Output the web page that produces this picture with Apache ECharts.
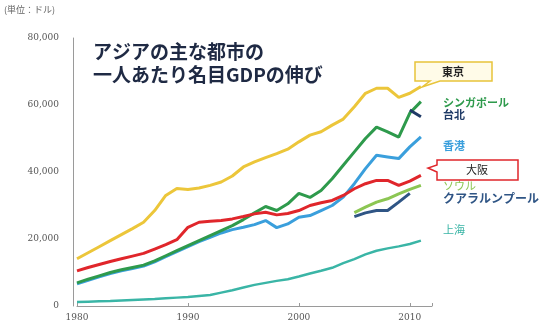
<!DOCTYPE html>
<html><head><meta charset="utf-8">
<script src="https://cdn.jsdelivr.net/npm/echarts@6/dist/echarts.min.js"></script>
<style>html,body{margin:0;padding:0;background:#fff}#c{width:549px;height:329px}</style>
</head><body><div id="c"></div>
<script>
const years = [1980,1981,1982,1983,1984,1985,1986,1987,1988,1989,1990,1991,1992,1993,1994,1995,1996,1997,1998,1999,2000,2001,2002,2003,2004,2005,2006,2007,2008,2009,2010,2011];
const tokyo = [14100,15900,17700,19500,21300,23100,25000,28500,33000,35100,34800,35200,36000,37000,38800,41500,43000,44300,45500,46800,49000,51000,52000,54000,55800,59500,63500,65000,65000,62300,63500,65500];
const osaka = [10500,11500,12400,13300,14100,14900,15700,17000,18300,19800,23500,25000,25300,25500,26000,26700,27500,28000,27200,27600,28500,30000,30800,31500,33000,35000,36500,37500,37500,36000,37300,39000];
const singapore = [6900,8000,9000,10000,10800,11500,12200,13500,15000,16500,18000,19500,21000,22500,24000,25800,27800,29700,28500,30500,33600,32400,34500,38000,42000,46000,50000,53400,52000,50400,57600,61000];
const hongkong = [6600,7700,8700,9700,10500,11200,11900,13200,14700,16200,17700,19200,20500,21800,22800,23500,24300,25500,23400,24500,26500,27000,28500,30000,32500,36500,41000,45000,44500,44000,47500,50500];
const shanghai = [1200,1300,1400,1500,1650,1800,1950,2100,2300,2500,2700,3000,3300,4000,4700,5500,6300,6900,7500,8000,8800,9700,10500,11400,12800,14000,15400,16500,17200,17800,18500,19500];
const seoulYears = [2005,2006,2007,2008,2009,2010,2011];
const seoul = [27900,29500,31000,32000,33500,34800,36000];
const klYears = [2005,2006,2007,2008,2009,2010];
const kualaLumpur = [26700,27800,28500,28500,31000,33600];
const taipeiYears = [2010,2011];
const taipei = [58500,56500];
const yTicks = ['0','20,000','40,000','60,000','80,000'];
const xTicks = ['1980','1990','2000','2010'];

const pair = (xs, vs) => xs.map((x, i) => [x, vs[i]]);
const mk = (name, xs, vs, color, w) => ({
  name, type: 'line', data: pair(xs, vs), symbol: 'none', smooth: false,
  lineStyle: { color, width: w || 3 }, itemStyle: { color }, z: 3
});

const chart = echarts.init(document.getElementById('c'), null, { renderer: 'canvas' });
chart.setOption({
  animation: false,
  backgroundColor: '#ffffff',
  grid: { left: 77, right: 117, top: 38, bottom: 23, containLabel: false },
  xAxis: {
    type: 'value', min: 1980, max: 2012, interval: 10,
    axisLine: { show: true, lineStyle: { color: '#9a9a9a', width: 1 } },
    axisTick: { show: true, inside: true, length: 3, lineStyle: { color: '#9a9a9a' } },
    splitLine: { show: false },
    axisLabel: { color: '#555', fontSize: 9, fontFamily: 'DejaVu Serif', margin: 7,
      formatter: v => xTicks.includes(String(v)) ? String(v) : '' }
  },
  yAxis: {
    type: 'value', min: 0, max: 80000, interval: 20000, offset: 4,
    axisLine: { show: true, lineStyle: { color: '#9a9a9a', width: 1 } },
    axisTick: { show: false },
    splitLine: { show: false },
    axisLabel: { color: '#555', fontSize: 9, fontFamily: 'DejaVu Serif', margin: 14,
      formatter: v => yTicks[Math.round(v / 20000)] }
  },
  series: [
    mk('上海', years, shanghai, '#3ab5a6', 2.5),
    mk('香港', years, hongkong, '#3a9fdc'),
    mk('シンガポール', years, singapore, '#2e9a4c'),
    mk('大阪', years, osaka, '#e0262b'),
    mk('東京', years, tokyo, '#ecc63a'),
    mk('ソウル', seoulYears, seoul, '#8cc653'),
    mk('クアラルンプール', klYears, kualaLumpur, '#2f5585'),
    mk('台北', taipeiYears, taipei, '#1f3a66')
  ],
  graphic: [
    { type: 'text', left: 4, top: 5, style: { text: '(単位：ドル)', fill: '#666', fontSize: 9, fontFamily: 'Noto Sans CJK JP' } },
    { type: 'text', left: 93, top: 42, style: { text: 'アジアの主な都市の', fill: '#1f2a44', fontSize: 19, fontWeight: 'bold', fontFamily: 'Noto Sans CJK JP' } },
    { type: 'text', left: 93, top: 65, style: { text: '一人あたり名目GDPの伸び', fill: '#1f2a44', fontSize: 19, fontWeight: 'bold', fontFamily: 'Noto Sans CJK JP' } },
    // Tokyo callout
    { type: 'polygon', shape: { points: [[415,62],[492,62],[492,81],[440,81],[422,87],[430,81],[415,81]] },
      style: { fill: '#fffbe8', stroke: '#e8c43a', lineWidth: 1.5 }, z: 10 },
    { type: 'text', x: 453, y: 72, style: { text: '東京', fill: '#222', fontSize: 11, fontWeight: 'bold', align: 'center', verticalAlign: 'middle', fontFamily: 'Noto Sans CJK JP' }, z: 11 },
    // Osaka callout
    { type: 'polygon', shape: { points: [[437,160],[518,160],[518,180],[437,180],[437,172],[428,168],[437,165]] },
      style: { fill: '#ffffff', stroke: '#e0262b', lineWidth: 1.5 }, z: 10 },
    { type: 'text', x: 477, y: 170, style: { text: '大阪', fill: '#222', fontSize: 11, align: 'center', verticalAlign: 'middle', fontFamily: 'Noto Sans CJK JP' }, z: 11 },
    { type: 'text', x: 443, y: 103, style: { text: 'シンガポール', fill: '#2e9a4c', fontSize: 11, fontWeight: 'bold', verticalAlign: 'middle', fontFamily: 'Noto Sans CJK JP' } },
    { type: 'text', x: 443, y: 115, style: { text: '台北', fill: '#1f3a66', fontSize: 11, fontWeight: 'bold', verticalAlign: 'middle', fontFamily: 'Noto Sans CJK JP' } },
    { type: 'text', x: 443, y: 146, style: { text: '香港', fill: '#3a9fdc', fontSize: 11, fontWeight: 'bold', verticalAlign: 'middle', fontFamily: 'Noto Sans CJK JP' } },
    { type: 'text', x: 443, y: 186, style: { text: 'ソウル', fill: '#8cc653', fontSize: 11, verticalAlign: 'middle', fontFamily: 'Noto Sans CJK JP' } },
    { type: 'text', x: 443, y: 198, style: { text: 'クアラルンプール', fill: '#2f5585', fontSize: 12, fontWeight: 'bold', verticalAlign: 'middle', fontFamily: 'Noto Sans CJK JP' } },
    { type: 'text', x: 443, y: 230, style: { text: '上海', fill: '#3ab5a6', fontSize: 11, verticalAlign: 'middle', fontFamily: 'Noto Sans CJK JP' } }
  ]
});
</script></body></html>
